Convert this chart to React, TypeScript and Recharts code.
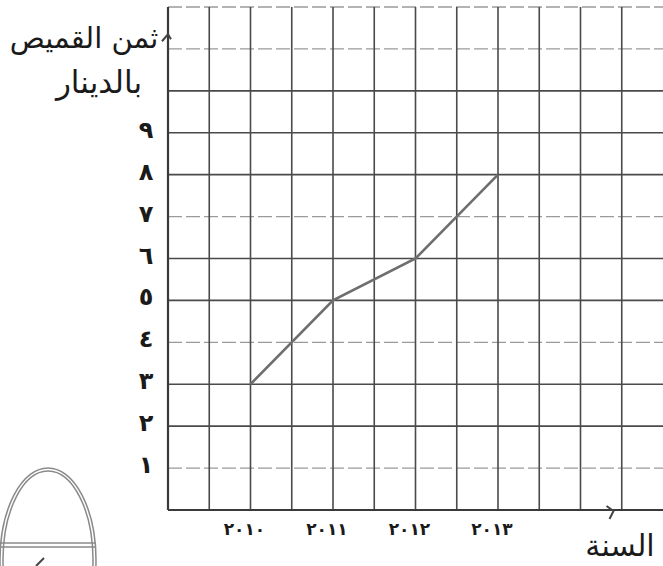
import React from "react";
import { LineChart, Line, XAxis, YAxis, CartesianGrid, ReferenceDot } from "recharts";

const years = [2010, 2011, 2012, 2013];
const prices = [3, 5, 6, 8];
const yearLabels = ["٢٠١٠", "٢٠١١", "٢٠١٢", "٢٠١٣"];
const priceTicks = [1, 2, 3, 4, 5, 6, 7, 8, 9];
const priceLabels = ["١", "٢", "٣", "٤", "٥", "٦", "٧", "٨", "٩"];
const darkGridValues = [2, 3, 5, 6, 8, 9, 10];
const lightGridValues = [1, 4, 7, 11, 12];
const verticalGridWhole = [2010, 2011, 2012, 2013, 2014];
const verticalGridHalf = [2009.5, 2010.5, 2011.5, 2012.5, 2013.5, 2014.5];
const yTitleLines = ["ثمن القميص", "بالدينار"];
const xTitle = "السنة";

const data = years.map((y, i) => ({ year: y, price: prices[i] }));

const FONT = "'DejaVu Sans', sans-serif";

const XTick = (props: any) => {
  const { x, y, payload } = props;
  const i = years.indexOf(payload.value);
  return (
    <text x={x - 6} y={y + 11} textAnchor="middle" dominantBaseline="central"
      fontFamily={FONT} fontSize={17} fontWeight="bold" fill="#1a1a1a">
      {i >= 0 ? yearLabels[i] : ""}
    </text>
  );
};

const YTick = (props: any) => {
  const { x, y, payload } = props;
  const i = priceTicks.indexOf(payload.value);
  return (
    <text x={x - 14} y={y - 3} textAnchor="middle" dominantBaseline="central"
      fontFamily={FONT} fontSize={24} fontWeight="bold" fill="#1a1a1a">
      {i >= 0 ? priceLabels[i] : ""}
    </text>
  );
};

const UpArrow = (props: any) => {
  const { cx, cy } = props;
  return <path d={`M${cx - 6},${cy + 7} L${cx},${cy} L${cx + 3},${cy + 5}`} fill="none" stroke="#444" strokeWidth={2} />;
};

const RightArrow = (props: any) => {
  const { cx, cy } = props;
  return <path d={`M${cx - 7},${cy - 4} L${cx},${cy + 1} L${cx - 4},${cy + 9}`} fill="none" stroke="#444" strokeWidth={2} />;
};

export default function App() {
  return (
    <div style={{ position: "absolute", left: 0, top: 0, width: 663, height: 566, background: "#fff", overflow: "hidden" }}>
      <LineChart width={663} height={566} data={data} margin={{ top: 7, right: 0, left: 0, bottom: 0 }}>
        <CartesianGrid horizontal={true} vertical={false} horizontalValues={lightGridValues}
          stroke="#9a9a9a" strokeWidth={1.3} strokeDasharray="14 4" />
        <CartesianGrid horizontal={true} vertical={true} horizontalValues={darkGridValues}
          verticalValues={verticalGridHalf} stroke="#4a4a4a" strokeWidth={1.6} />
        <CartesianGrid horizontal={false} vertical={true}
          verticalValues={verticalGridWhole} stroke="#4a4a4a" strokeWidth={1.6} />
        <XAxis dataKey="year" type="number" domain={[2009, 2015]} ticks={years} height={56}
          tickLine={false} axisLine={{ stroke: "#3a3a3a", strokeWidth: 2.2 }} tick={<XTick />}
          allowDataOverflow={true} />
        <YAxis type="number" domain={[0, 12]} ticks={priceTicks} width={168}
          tickLine={false} axisLine={{ stroke: "#3a3a3a", strokeWidth: 2.2 }} tick={<YTick />}
          allowDataOverflow={true} />
        <ReferenceDot x={2009} y={11.35} r={0} shape={<UpArrow />} ifOverflow="visible" />
        <ReferenceDot x={2014.4} y={0} r={0} shape={<RightArrow />} ifOverflow="visible" />
        <Line type="linear" dataKey="price" stroke="#6e6e6e" strokeWidth={2.6} dot={false}
          isAnimationActive={false} />
      </LineChart>
      <div style={{ position: "absolute", left: 4, top: 16, width: 160, textAlign: "center", direction: "rtl",
        fontFamily: FONT, fontSize: 29, color: "#1a1a1a", lineHeight: "44px" }}>
        {yTitleLines[0]}
      </div>
      <div style={{ position: "absolute", left: 40, top: 60, width: 118, textAlign: "center", direction: "rtl",
        fontFamily: FONT, fontSize: 31, color: "#1a1a1a", lineHeight: "44px" }}>
        {yTitleLines[1]}
      </div>
      <div style={{ position: "absolute", left: 570, top: 528, width: 100, textAlign: "center", direction: "rtl",
        fontFamily: FONT, fontSize: 30, color: "#1a1a1a", lineHeight: "36px" }}>
        {xTitle}
      </div>
      <svg width={110} height={110} style={{ position: "absolute", left: 0, top: 460 }}>
        <ellipse cx={48} cy={100} rx={48} ry={92} fill="none" stroke="#8a8a8a" strokeWidth={1.5} />
        <ellipse cx={48} cy={100} rx={45} ry={89} fill="none" stroke="#8a8a8a" strokeWidth={1.5} />
        <line x1={0} y1={83} x2={96} y2={83} stroke="#8a8a8a" strokeWidth={1.5} />
        <line x1={0} y1={87} x2={96} y2={87} stroke="#8a8a8a" strokeWidth={1.5} />
        <path d="M36,106 L44,98" stroke="#444" strokeWidth={2} />
      </svg>
    </div>
  );
}
